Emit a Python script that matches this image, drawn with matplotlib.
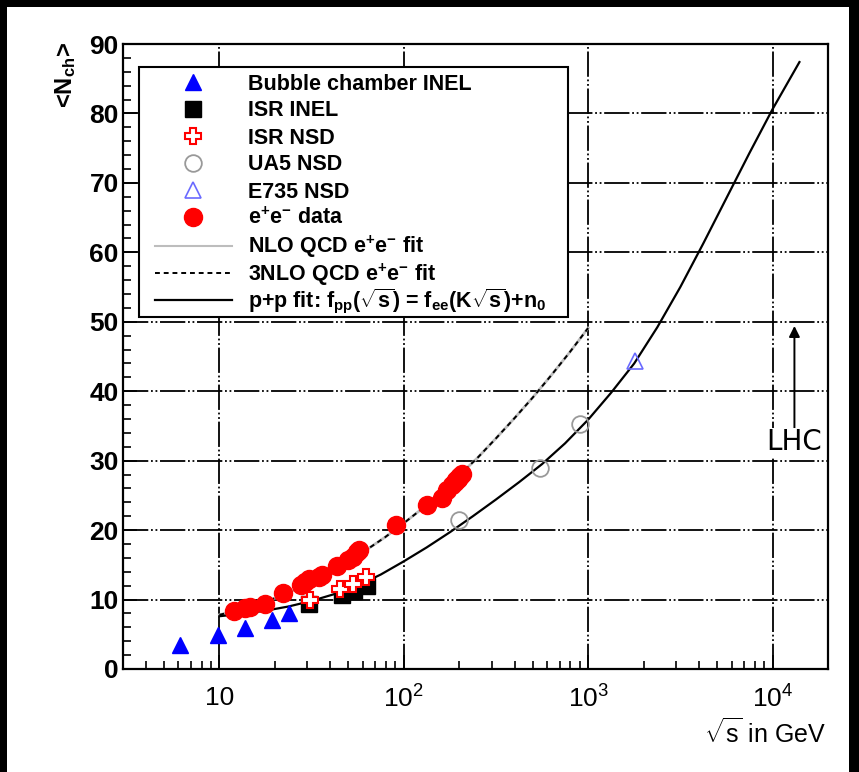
import numpy as np
import matplotlib
matplotlib.use("Agg")
import matplotlib.pyplot as plt
from matplotlib.lines import Line2D
from matplotlib.patches import Rectangle
from matplotlib.ticker import LogLocator, MultipleLocator, FuncFormatter, NullFormatter

plt.rcParams['font.family'] = ['Liberation Sans', 'DejaVu Sans']
plt.rcParams['mathtext.fontset'] = 'custom'
plt.rcParams['mathtext.rm'] = 'Liberation Sans'
plt.rcParams['mathtext.it'] = 'Liberation Sans:italic'
plt.rcParams['mathtext.bf'] = 'Liberation Sans:bold'
plt.rcParams['mathtext.default'] = 'regular'

# ---- data: sqrt(s) in GeV, mean charged multiplicity ----
bubble_x = [6.15, 9.8, 13.8, 19.4, 24.0]
bubble_y = [3.5, 4.9, 5.9, 7.1, 8.1]

isr_inel_x = [30.8, 46.0, 54.0, 63.0]
isr_inel_y = [9.3, 10.7, 11.2, 11.9]

isr_nsd_x = [31.0, 45.0, 53.0, 62.5]
isr_nsd_y = [9.9, 11.5, 12.3, 13.2]

ua5_x = [200.0, 546.0, 900.0]
ua5_y = [21.4, 29.0, 35.3]

e735_x = [1800.0]
e735_y = [44.3]

ee_x = [12.0, 13.7, 14.6, 17.6, 22.0, 27.6, 29.0, 30.5, 34.8, 35.8, 43.6, 50.0,
        53.0, 56.0, 57.5, 91.2, 133.0, 161.0, 172.0, 183.0, 189.0, 192.0,
        196.0, 200.0, 202.0, 206.0]
ee_y = [8.3, 8.8, 9.0, 9.3, 11.0, 12.1, 12.6, 13.0, 13.3, 13.6, 14.8, 15.7,
        16.2, 16.8, 17.2, 20.8, 23.6, 24.6, 25.8, 26.5, 26.9, 27.2, 27.4,
        27.6, 27.8, 28.1]

# QCD e+e- fit curve (sampled)
qcd_x = [10.0, 12.6, 15.8, 20.0, 25.1, 31.6, 39.8, 50.1, 63.1, 79.4, 100.0,
         126.0, 158.0, 200.0, 251.0, 316.0, 398.0, 501.0, 631.0, 794.0, 1000.0]
qcd_y = [7.8, 8.45, 9.25, 10.2, 11.3, 12.5, 13.9, 15.5, 17.2, 19.0, 21.0,
         23.1, 25.4, 27.9, 30.4, 33.2, 36.1, 39.1, 42.3, 45.6, 49.1]

# p+p fit curve (sampled), extrapolated up to 14 TeV
pp_x = [10.0, 13.3, 17.8, 23.7, 31.6, 42.2, 56.2, 75.0, 100.0, 133.0, 178.0,
        237.0, 316.0, 422.0, 562.0, 750.0, 1000.0, 1334.0, 1778.0, 2371.0,
        3162.0, 4217.0, 5623.0, 7499.0, 10000.0, 14000.0]
pp_y = [7.6, 7.95, 8.4, 9.0, 9.8, 10.8, 12.0, 13.6, 15.5, 17.5, 19.7, 22.0,
        24.4, 26.9, 29.5, 32.5, 35.9, 39.8, 44.0, 49.2, 55.0, 61.3, 67.8,
        74.3, 80.6, 87.4]

lhc_x = 13150.0
lhc_arrow_y = (34.4, 49.4)
lhc_text_y = 32.7

legend_labels = [
    "Bubble chamber INEL",
    "ISR INEL",
    "ISR NSD",
    "UA5 NSD",
    "E735 NSD",
    r"e$^{+}$e$^{-}$ data",
    r"NLO QCD e$^{+}$e$^{-}$ fit",
    r"3NLO QCD e$^{+}$e$^{-}$ fit",
    r"p+p fit: f$_{pp}$($\sqrt{s}$) = f$_{ee}$(K$\sqrt{s}$)+n$_{0}$",
]

# marker / line styles shared by plot and legend
styles = [
    dict(ls='none', marker='^', color='blue', ms=12),
    dict(ls='none', marker='s', color='black', ms=11),
    dict(ls='none', marker='P', mfc='white', mec='red', mew=1.5, ms=11),
    dict(ls='none', marker='o', mfc='none', mec='#999999', mew=1.3, ms=12),
    dict(ls='none', marker='^', mfc='none', mec='#6a6aff', mew=1.2, ms=12),
    dict(ls='none', marker='o', color='red', ms=13),
    dict(color='#bdbdbd', lw=1.5),
    dict(color='black', lw=1.4, ls=(0, (2.5, 2))),
    dict(color='black', lw=1.6),
]

W, H = 859, 772
AX_L, AX_R, AX_T, AX_B = 123, 828, 44, 669
fig = plt.figure(figsize=(W / 100, H / 100), dpi=100, facecolor='black')
fig.patches.append(Rectangle((7 / W, 0), (849 - 7) / W, (H - 7) / H,
                             transform=fig.transFigure, facecolor='white',
                             edgecolor='none', zorder=-10))

ax = fig.add_axes([AX_L / W, 1 - AX_B / H, (AX_R - AX_L) / W, (AX_B - AX_T) / H])
ax.set_facecolor('white')
ax.set_xscale('log')
ax.set_xlim(3.0, 2.0e4)
ax.set_ylim(0, 90)

for s in ax.spines.values():
    s.set_linewidth(1.6)

ax.grid(True, which='major', color='black', lw=1.3,
        linestyle=(0, (14, 1.5, 1, 1.5, 1, 1.5)), zorder=1)

ax.yaxis.set_major_locator(MultipleLocator(10))
ax.yaxis.set_minor_locator(MultipleLocator(2))
ax.xaxis.set_major_locator(LogLocator(base=10, numticks=10))
ax.xaxis.set_minor_locator(LogLocator(base=10, subs=np.arange(2, 10), numticks=20))
ax.xaxis.set_minor_formatter(NullFormatter())


def xfmt(v, pos):
    e = int(round(np.log10(v)))
    return "10" if e == 1 else r"10$^{%d}$" % e


ax.xaxis.set_major_formatter(FuncFormatter(xfmt))
ax.tick_params(which='both', direction='in', top=False, right=False, width=1.2)
ax.tick_params(which='major', length=10)
ax.tick_params(which='minor', length=6)
ax.tick_params(axis='y', labelsize=19, pad=3)
ax.tick_params(axis='x', labelsize=19, pad=12)
for t in ax.get_yticklabels():
    t.set_fontweight('bold')

# curves
ax.plot(qcd_x, qcd_y, color='#bdbdbd', lw=2.0, zorder=3)
ax.plot(qcd_x, qcd_y, **styles[7], zorder=3)
ax.plot(pp_x, pp_y, **styles[8], zorder=3)

# data points
ax.plot(bubble_x, bubble_y, **styles[0], zorder=5)
ax.plot(isr_inel_x, isr_inel_y, **styles[1], zorder=5)
ax.plot(isr_nsd_x, isr_nsd_y, **styles[2], zorder=6)
ax.plot(ua5_x, ua5_y, **styles[3], zorder=5)
ax.plot(e735_x, e735_y, **styles[4], zorder=5)
ax.plot(ee_x, ee_y, **styles[5], zorder=4)

# LHC marker
ax.annotate("", xy=(lhc_x, lhc_arrow_y[1]), xytext=(lhc_x, lhc_arrow_y[0]),
            arrowprops=dict(arrowstyle='-|>', color='black', lw=1.4,
                            mutation_scale=16, shrinkA=0, shrinkB=0), zorder=6)
ax.text(lhc_x, lhc_text_y, "LHC", fontsize=20, family='DejaVu Sans',
        ha='center', va='center', zorder=6,
        bbox=dict(facecolor='white', edgecolor='none', pad=0))


# legend box (pixel layout -> axes fractions)
def axx(px):
    return (px - AX_L) / (AX_R - AX_L)


def axy(py):
    return (AX_B - py) / (AX_B - AX_T)


ax.add_patch(Rectangle((axx(139), axy(317)), axx(568) - axx(139), axy(67) - axy(317),
                       transform=ax.transAxes, facecolor='white', edgecolor='black',
                       lw=1.5, zorder=10))
row_py = [82, 109, 136, 163, 190, 217, 246, 273, 300]
for k, (lab, st) in enumerate(zip(legend_labels, styles)):
    yy = axy(row_py[k])
    if st.get('ls', '-') == 'none':
        ln = Line2D([axx(193)], [yy], transform=ax.transAxes, **st)
    else:
        ln = Line2D([axx(155), axx(232)], [yy, yy], transform=ax.transAxes, **st)
    ln.set_zorder(11)
    ln.set_clip_on(False)
    ax.add_line(ln)
    ax.text(axx(248), axy(row_py[k] + 7.5), lab, transform=ax.transAxes,
            fontsize=15.5, fontweight='bold', ha='left', va='baseline', zorder=11)

fig.text(66 / W, 1 - 42 / H, r"<N$_{ch}$>", rotation=90, ha='center', va='top',
         fontsize=17, fontweight='bold')
fig.text(826 / W, 1 - 733 / H, r"$\sqrt{s}$ in GeV", ha='right', va='center',
         fontsize=18)

fig.savefig("out.png", dpi=100, facecolor=fig.get_facecolor())
